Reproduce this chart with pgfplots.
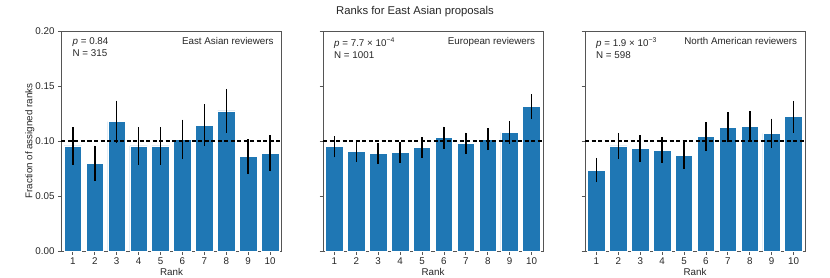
\documentclass[border=0pt]{standalone}
\usepackage{pgfplots}
\pgfplotsset{compat=1.18}
\usepackage{fontspec}
\setmainfont{Liberation Sans}
\definecolor{tabblue}{HTML}{1F77B4}
\definecolor{spine}{HTML}{555555}
\pgfplotstableread{
x y e
1 0.0955 0.017
2 0.0797 0.016
3 0.1176 0.019
4 0.0955 0.017
5 0.0955 0.017
6 0.1015 0.018
7 0.1143 0.019
8 0.1273 0.020
9 0.0858 0.016
10 0.0888 0.0165
}\tabEA
\pgfplotstableread{
x y e
1 0.0948 0.0097
2 0.0906 0.0094
3 0.0888 0.0093
4 0.0897 0.0093
5 0.0939 0.0095
6 0.1030 0.0101
7 0.0979 0.0098
8 0.1018 0.0100
9 0.1079 0.0104
10 0.1312 0.0113
}\tabEU
\pgfplotstableread{
x y e
1 0.0736 0.0110
2 0.0955 0.0120
3 0.0933 0.0120
4 0.0918 0.0120
5 0.0870 0.0120
6 0.1039 0.0132
7 0.1124 0.0136
8 0.1136 0.0138
9 0.1070 0.0133
10 0.1221 0.0144
}\tabNA
\newcommand{\fs}{\fontsize{9.8}{11.5}\selectfont}
\pgfplotsset{
  panel/.style={
    scale only axis, width=220pt, height=220pt,
    anchor=south west,
    xmin=0.48, xmax=10.52, ymin=0, ymax=0.2,
    xtick={1,...,10}, ytick={0,0.05,...,0.2},
    axis line style={spine, line width=0.8pt},
    tick style={spine, line width=0.8pt},
    tick align=outside, major tick length=3.5pt,
    xtick pos=bottom, ytick pos=left,
    tick label style={font=\fs, text=black!85},
    label style={font=\fs, text=black!85},
    /pgf/number format/assume math mode=true,
    yticklabel style={/pgf/number format/fixed, /pgf/number format/fixed zerofill, /pgf/number format/precision=2},
    xlabel={Rank},
    xlabel style={yshift=3pt},
    clip=false,
  },
  barstyle/.style={ybar, bar width=0.8, fill=tabblue, draw=white, line width=0.7pt, bar shift=0pt,
    error bars/.cd, y dir=both, y explicit, error mark=none,
    error bar style={black, line width=1.5pt}},
}
\newcommand{\annot}[3]{%
  \node[anchor=north west, align=left, font=\fontsize{9.8}{12}\selectfont, text=black!85, inner sep=0pt] at (rel axis cs:0.05,0.97) {#1\\N = #2};
  \node[anchor=north east, font=\fs, text=black!85, inner sep=0pt] at (rel axis cs:0.965,0.97) {#3};
}
\begin{document}
\begin{tikzpicture}
\useasboundingbox (0,0) rectangle (830pt,277pt);
\node[font=\fontsize{11.3}{13}\selectfont, text=black!85] at (415pt,265pt) {Ranks for East Asian proposals};
\begin{axis}[panel, at={(61.5pt,26pt)}, ylabel={Fraction of assigned ranks}, ylabel style={yshift=-6pt}]
  \addplot[barstyle] table[x=x, y=y, y error=e] {\tabEA};
  \addplot[black, dashed, line width=1.2pt, dash pattern=on 4pt off 2.5pt] coordinates {(0.48,0.1) (10.52,0.1)};
  \annot{\textit{p} = 0.84}{315}{East Asian reviewers}
\end{axis}
\begin{axis}[panel, at={(323pt,26pt)}, yticklabels={}]
  \addplot[barstyle] table[x=x, y=y, y error=e] {\tabEU};
  \addplot[black, dashed, line width=1.2pt, dash pattern=on 4pt off 2.5pt] coordinates {(0.48,0.1) (10.52,0.1)};
  \annot{\textit{p} = 7.7 × 10\textsuperscript{−4}}{1001}{European reviewers}
\end{axis}
\begin{axis}[panel, at={(585pt,26pt)}, yticklabels={}]
  \addplot[barstyle] table[x=x, y=y, y error=e] {\tabNA};
  \addplot[black, dashed, line width=1.2pt, dash pattern=on 4pt off 2.5pt] coordinates {(0.48,0.1) (10.52,0.1)};
  \annot{\textit{p} = 1.9 × 10\textsuperscript{−3}}{598}{North American reviewers}
\end{axis}
\end{tikzpicture}
\end{document}
